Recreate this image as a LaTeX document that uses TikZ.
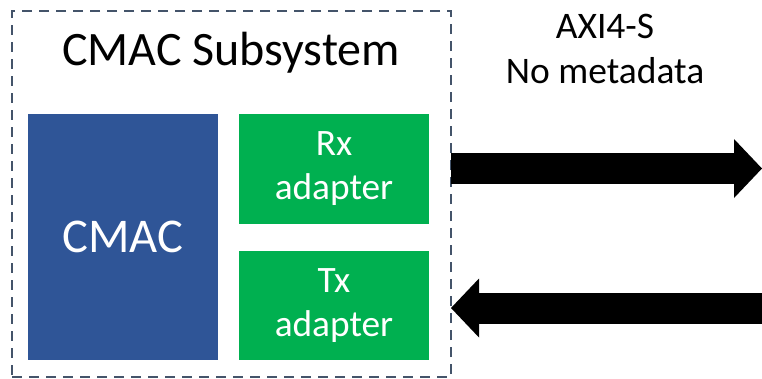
\documentclass[tikz,border=0pt]{standalone}
\usepackage{fontspec}
\setmainfont{Carlito}
\usetikzlibrary{arrows.meta}
\definecolor{cmacblue}{HTML}{2F5597}
\definecolor{adgreen}{HTML}{00B050}
\definecolor{dashgray}{HTML}{44546A}
\begin{document}
\begin{tikzpicture}[x=1pt,y=-1pt,
  subsysbox/.style={draw=dashgray, line width=2pt, dash pattern=on 10pt off 7pt,
    minimum width=439pt, minimum height=366pt, inner sep=0pt, outer sep=0pt},
  cmacbox/.style={fill=cmacblue, text=white, minimum width=190pt, minimum height=246pt,
    inner sep=0pt, outer sep=0pt, font=\fontsize{48.5}{58}\selectfont},
  adbox/.style={fill=adgreen, text=white, minimum width=190pt, minimum height=110pt,
    inner sep=0pt, outer sep=0pt, align=center, font=\fontsize{37.3}{44}\selectfont},
  lbl/.style={align=center, inner sep=0pt, font=\fontsize{37.5}{45}\selectfont},
  bigarrow/.style={line width=31pt, -{Triangle[length=28pt,width=59pt,line width=0pt]}}
]
\useasboundingbox (0,0) rectangle (762,378);
\node[subsysbox] (sub) at (231.5,194) {};
\node[inner sep=0pt, anchor=base, font=\fontsize{48}{56}\selectfont] (title) at (231,65) {CMAC Subsystem};
\node[cmacbox] (cmac) at (123,237) {CMAC};
\node[adbox] (rx) at (334,169) {Rx\\adapter};
\node[adbox, minimum height=109pt] (tx) at (334,305.5) {Tx\\adapter};
\node[lbl] (axi) at (605,49) {AXI4-S\\No metadata};
\coordinate (rxout) at (762,168.5);
\coordinate (txin) at (762,308);
\draw[bigarrow] (sub.east |- rxout) -- (rxout);
\draw[bigarrow] (txin) -- (sub.east |- txin);
\end{tikzpicture}
\end{document}
